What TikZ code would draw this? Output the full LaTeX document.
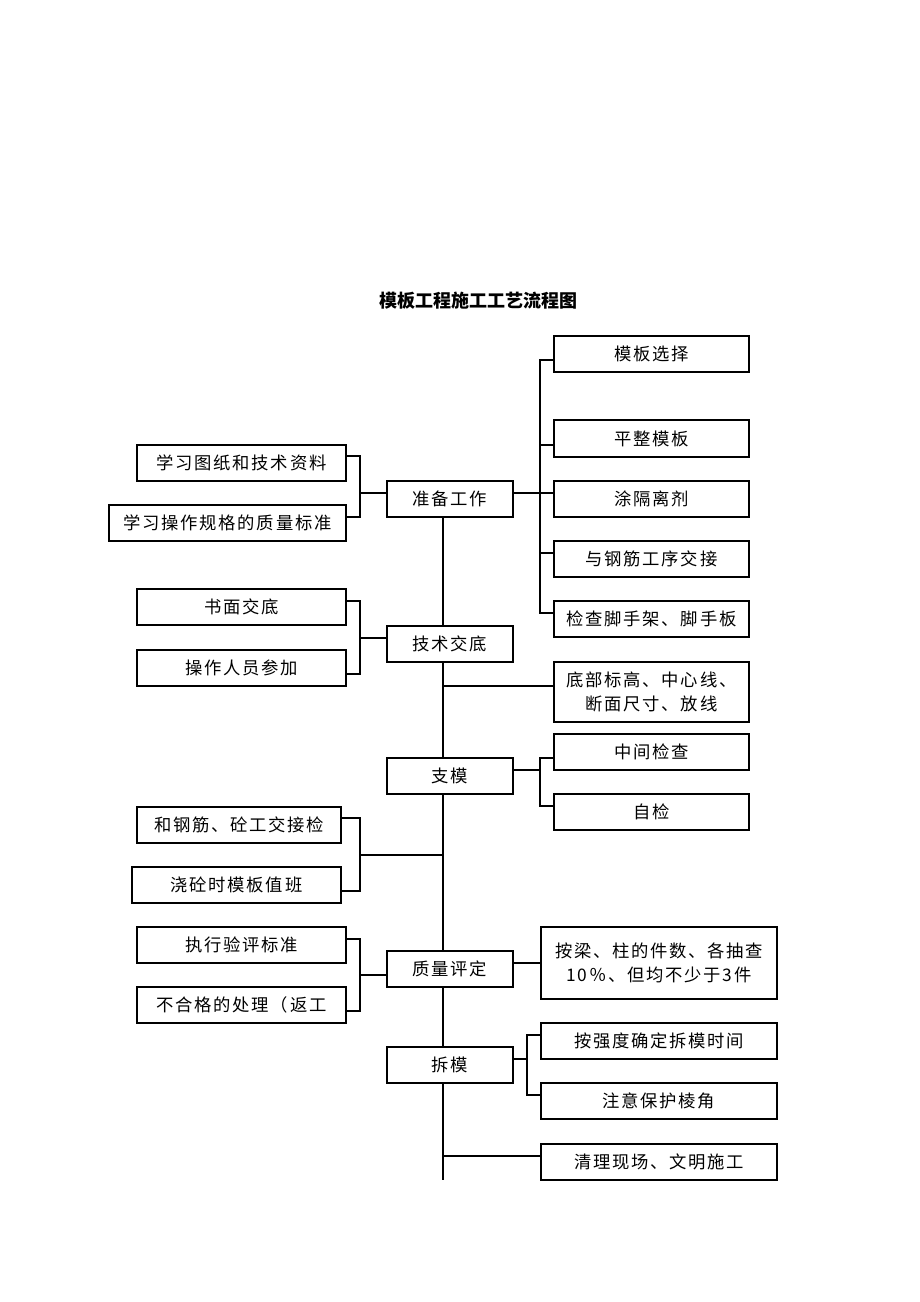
\documentclass[tikz,border=0pt]{standalone}
\usepackage{fontspec}
\setmainfont{Noto Sans CJK SC}
\newfontfamily\cjk[LetterSpace=10]{Noto Sans CJK SC}
\newfontfamily\cjktitle{Noto Sans CJK SC}
\newcommand\mybox[6]{\node[box, minimum width={(#4-#2)*0.75pt}, minimum height={(#5-#3)*0.75pt}] (#1) at ({(#2+#4)/2},{(#3+#5)/2}) {#6};}
\begin{document}
\begin{tikzpicture}[x=0.75pt,y=-0.75pt,
  box/.style={draw, line width=0.85pt, inner sep=0pt, align=center, font=\cjk\fontsize{13pt}{17.5pt}\selectfont},
  ln/.style={line width=0.85pt}]
\useasboundingbox (0,0) rectangle (920,1302);
\node[font=\cjktitle\bfseries\fontsize{13.5pt}{16pt}\selectfont] (title) at (478,301) {模板工程施工工艺流程图};
\mybox{r1}{554}{336}{749}{372}{模板选择}
\mybox{l1}{137}{445}{346}{481}{学习图纸和技术资料}
\mybox{r2}{554}{420}{749}{457}{平整模板}
\mybox{c1}{387}{481}{513}{517}{准备工作}
\mybox{r3}{554}{481}{749}{517}{涂隔离剂}
\mybox{l2}{109}{505}{346}{541}{学习操作规格的质量标准}
\mybox{r4}{554}{541}{749}{577}{与钢筋工序交接}
\mybox{l3}{137}{589}{346}{625}{书面交底}
\mybox{r5}{554}{601}{749}{637}{检查脚手架、脚手板}
\mybox{c2}{387}{626}{513}{662}{技术交底}
\mybox{l4}{137}{650}{346}{686}{操作人员参加}
\mybox{r6}{554}{662}{749}{722}{底部标高、中心线、\\断面尺寸、放线}
\mybox{r7}{554}{734}{749}{770}{中间检查}
\mybox{c3}{387}{758}{513}{794}{支模}
\mybox{r8}{554}{794}{749}{830}{自检}
\mybox{l5}{137}{807}{341}{843}{和钢筋、砼工交接检}
\mybox{l6}{132}{867}{341}{903}{浇砼时模板值班}
\mybox{l7}{137}{927}{346}{963}{执行验评标准}
\mybox{r9}{541}{927}{777}{999}{按梁、柱的件数、各抽查\\10％、但均不少于3件}
\mybox{c4}{387}{951}{513}{987}{质量评定}
\mybox{l8}{137}{987}{346}{1023}{不合格的处理（返工}
\mybox{r10}{541}{1023}{777}{1059}{按强度确定拆模时间}
\mybox{c5}{387}{1047}{513}{1083}{拆模}
\mybox{r11}{541}{1083}{777}{1119}{注意保护棱角}
\mybox{r12}{541}{1144}{777}{1180}{清理现场、文明施工}
\coordinate (sp) at (443,0);
\coordinate (end) at (443,1180);
% central spine
\draw[ln] (c1.south -| sp) -- (c2.north -| sp);
\draw[ln] (c2.south -| sp) -- (c3.north -| sp);
\draw[ln] (c3.south -| sp) -- (c4.north -| sp);
\draw[ln] (c4.south -| sp) -- (c5.north -| sp);
\draw[ln] (c5.south -| sp) -- (end);
% c1
\draw[ln] (c1.east |- 0,493) -- (r3.west |- 0,493);
\draw[ln] (r1.west |- 0,360) -| (540,613) -- (r5.west |- 0,613);
\draw[ln] (540,445) -- (r2.west |- 0,445);
\draw[ln] (540,553) -- (r4.west |- 0,553);
\draw[ln] (c1.west |- 0,493) -- (360,493);
\draw[ln] (l1.east |- 0,456) -| (360,517) -- (l2.east |- 0,517);
% c2
\draw[ln] (c2.west |- 0,638) -- (360,638);
\draw[ln] (l3.east |- 0,601) -| (360,674) -- (l4.east |- 0,674);
\draw[ln] (443,686) -- (r6.west |- 0,686);
% c3
\draw[ln] (c3.east |- 0,770) -- (540,770);
\draw[ln] (r7.west |- 0,758) -| (540,806) -- (r8.west |- 0,806);
\draw[ln] (443,855) -- (360,855);
\draw[ln] (l5.east |- 0,818) -| (360,891) -- (l6.east |- 0,891);
% c4
\draw[ln] (c4.west |- 0,975) -- (360,975);
\draw[ln] (l7.east |- 0,939) -| (360,1011) -- (l8.east |- 0,1011);
\draw[ln] (c4.east |- 0,963) -- (r9.west |- 0,963);
% c5
\draw[ln] (c5.east |- 0,1059) -- (527,1059);
\draw[ln] (r10.west |- 0,1035) -| (527,1095) -- (r11.west |- 0,1095);
\draw[ln] (443,1156) -- (r12.west |- 0,1156);
\end{tikzpicture}
\end{document}
